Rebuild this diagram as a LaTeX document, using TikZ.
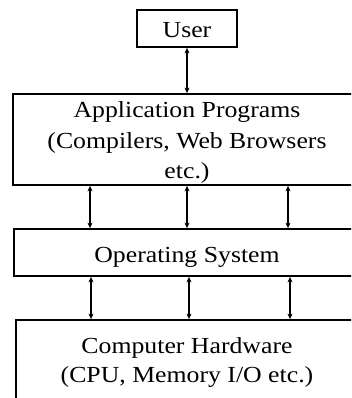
\documentclass[tikz,border=0pt]{standalone}
\usepackage{fontspec}
\setmainfont[FakeStretch=1.12]{Liberation Serif}
\usetikzlibrary{arrows.meta}
\begin{document}
\begin{tikzpicture}[x=1pt,y=-1pt,
  box/.style={draw,line width=1.8pt,inner sep=0pt},
  lbl/.style={font=\fontsize{23}{29}\selectfont,inner sep=0pt,anchor=base},
  conn/.style={line width=1.4pt,{Stealth[length=5.5pt,width=5pt]}-{Stealth[length=5.5pt,width=5pt]}}]
\useasboundingbox (0,0) rectangle (351,398);
\fill[white] (0,0) rectangle (351,398);
\begin{scope}
\clip (0,0) rectangle (351,398);
\node[box,minimum width=100pt,minimum height=37pt] (user) at (187,28.5) {};
\node[box,minimum width=348pt,minimum height=91pt] (app) at (187,139.5) {};
\node[box,minimum width=346pt,minimum height=47pt] (os) at (187,252.5) {};
\node[box,minimum width=342pt,minimum height=100pt] (hw) at (187,370) {};
\end{scope}
\node[lbl] (tuser) at (187,38) {User};
\node[lbl] (tapp1) at (187,118) {Application Programs};
\node[lbl] (tapp2) at (187,148) {(Compilers, Web Browsers};
\node[lbl] (tapp3) at (187,178) {etc.)};
\node[lbl] (tos) at (187,262) {Operating System};
\node[lbl] (thw1) at (187,353) {Computer Hardware};
\node[lbl] (thw2) at (187,382) {(CPU, Memory I/O etc.)};
\coordinate (a1) at (90,0);
\coordinate (a2) at (187,0);
\coordinate (a3) at (288,0);
\coordinate (b1) at (91,0);
\coordinate (b2) at (189,0);
\coordinate (b3) at (290,0);
\draw[conn] (user.south) -- (app.north);
\draw[conn] (app.south -| a1) -- (os.north -| a1);
\draw[conn] (app.south -| a2) -- (os.north -| a2);
\draw[conn] (app.south -| a3) -- (os.north -| a3);
\draw[conn] (os.south -| b1) -- (hw.north -| b1);
\draw[conn] (os.south -| b2) -- (hw.north -| b2);
\draw[conn] (os.south -| b3) -- (hw.north -| b3);
\end{tikzpicture}
\end{document}
